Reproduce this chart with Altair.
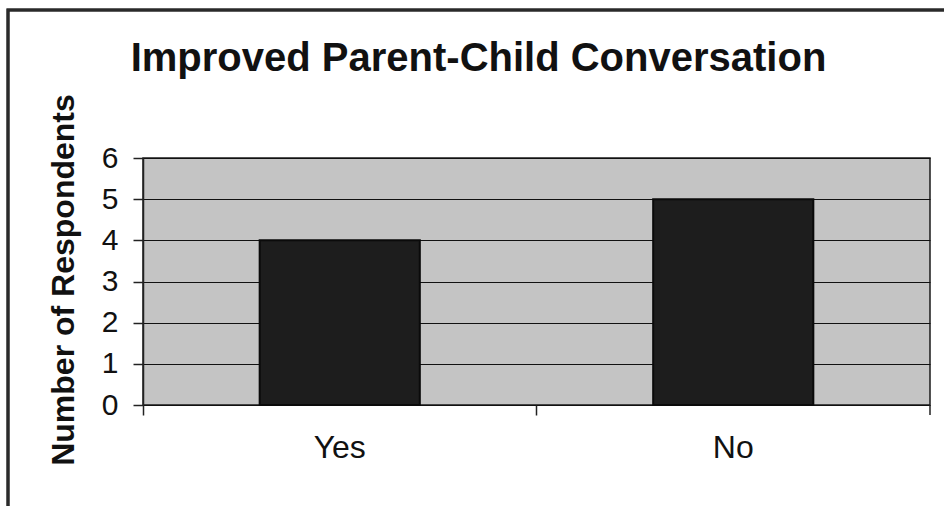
import altair as alt
import pandas as pd

# Survey answers and respondent counts
answers = ["Yes", "No"]
respondents = [4, 5]

df = pd.DataFrame({"answer": answers, "count": respondents})

W, H = 787, 247
FONT = "Liberation Sans"

x_enc = alt.X(
    "answer:N",
    sort=answers,
    scale=alt.Scale(paddingInner=0, paddingOuter=0),
    axis=alt.Axis(
        title=None,
        labelAngle=0,
        labelFontSize=32,
        labelFont=FONT,
        labelColor="#111111",
        labelPadding=17,
        bandPosition=0,
        tickSize=10,
        tickColor="#222222",
        tickWidth=1.5,
        domain=False,
        grid=False,
    ),
)

y_enc = alt.Y(
    "count:Q",
    scale=alt.Scale(domain=[0, 6]),
    axis=alt.Axis(
        title="Number of Respondents",
        titleFont=FONT,
        titleFontSize=32,
        titleFontWeight="bold",
        titleColor="#111111",
        titleAngle=-90,
        titleAlign="center",
        titleBaseline="alphabetic",
        titleX=-70,
        titleY=H / 2 - 2,
        values=[0, 1, 2, 3, 4, 5, 6],
        format="d",
        labelFont=FONT,
        labelFontSize=30,
        labelColor="#111111",
        labelPadding=15,
        tickSize=10,
        tickColor="#222222",
        tickWidth=1.5,
        domainColor="#222222",
        domainWidth=1.5,
        grid=True,
        gridColor="#111111",
        gridWidth=1.2,
        gridOpacity=1,
    ),
)

# Outer chart frame
frame = alt.Chart(df).mark_rect(
    fill=None, stroke="#2a2a2a", strokeWidth=3
).encode(
    x=alt.value(-135), x2=alt.value(W + 200),
    y=alt.value(-148), y2=alt.value(H + 200),
)

bars = alt.Chart(df).mark_bar(
    width={"band": 0.407},
    color="#1d1d1d",
    stroke="#0a0a0a",
    strokeWidth=2,
).encode(x=x_enc, y=y_enc)

# Closing tick at the right end of the category axis
end_tick = alt.Chart(df.tail(1)).mark_rule(
    color="#222222", strokeWidth=1.5
).encode(
    x=alt.X("answer:N", sort=answers, bandPosition=1),
    y=alt.value(H),
    y2=alt.value(H + 10),
)

chart = (
    alt.layer(frame, bars, end_tick)
    .properties(
        width=W,
        height=H,
        title=alt.TitleParams(
            "Improved Parent-Child Conversation",
            font=FONT,
            fontSize=40,
            fontWeight="bold",
            color="#111111",
            anchor="middle",
            frame="group",
            baseline="alphabetic",
            offset=-102,
            dx=-58,
        ),
        autosize=alt.AutoSizeParams(type="none"),
        padding={"left": 143, "top": 158, "right": 14, "bottom": 101},
        background="white",
    )
    .configure_view(fill="#c4c4c4", stroke="#1a1a1a", strokeWidth=1.5)
)

chart.save("out.html", embed_options={"renderer": "svg", "actions": False})
